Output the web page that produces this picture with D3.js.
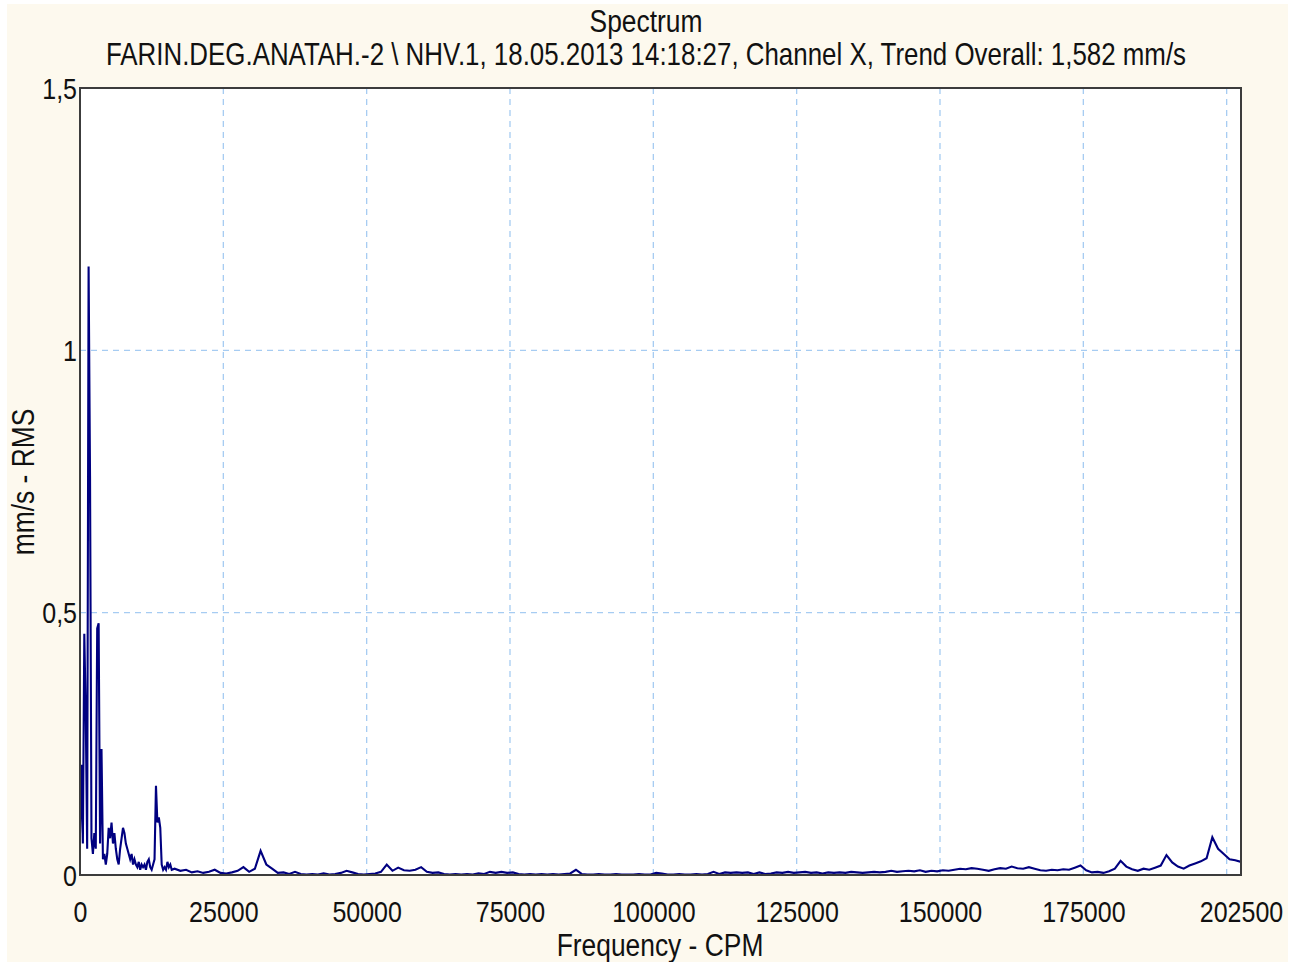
<!DOCTYPE html>
<html>
<head>
<meta charset="utf-8">
<script src="https://cdn.jsdelivr.net/npm/d3@7"></script>
<style>
  html, body { margin: 0; padding: 0; background: #ffffff; }
  svg { display: block; }
  text { font-family: "Liberation Sans", Arial, sans-serif; fill: #111; }
</style>
</head>
<body>
<svg id="chart" width="1294" height="962"></svg>
<script>
// ---------------- DATA ----------------
const chartTitle = "Spectrum";
const chartSubtitle = "FARIN.DEG.ANATAH.-2 \\ NHV.1, 18.05.2013 14:18:27, Channel X, Trend Overall: 1,582 mm/s";
const xAxisLabel = "Frequency - CPM";
const yAxisLabel = "mm/s - RMS";

const xTickValues = [0, 25000, 50000, 75000, 100000, 125000, 150000, 175000, 202500];
const xGridValues = [25000, 50000, 75000, 100000, 125000, 150000, 175000, 200000];
const yTickValues = [0, 0.5, 1, 1.5];
const yGridValues = [0.5, 1];
const xDomain = [0, 202500];
const yDomain = [0, 1.5];

// low-frequency segment: 0 .. 16000 CPM, every 250 CPM
const lowStart = 0;
const lowStep = 250;
const lowAmps = [
  0.08, 0.21, 0.06, 0.46, 0.31, 0.05, 1.16, 0.76, 0.07, 0.04,   // 0 .. 2250
  0.08, 0.05, 0.47, 0.48, 0.06, 0.24, 0.03, 0.04, 0.02, 0.04,   // 2500 .. 4750
  0.09, 0.07, 0.10, 0.06, 0.08, 0.05, 0.03, 0.02, 0.05, 0.07,   // 5000 .. 7250
  0.09, 0.08, 0.06, 0.05, 0.04, 0.03, 0.04, 0.02, 0.03, 0.02,   // 7500 .. 9750
  0.015, 0.025, 0.01, 0.02, 0.015, 0.02, 0.01, 0.025, 0.03, 0.015, // 10000 .. 12250
  0.01, 0.02, 0.03, 0.17, 0.10, 0.11, 0.09, 0.02, 0.01, 0.015,  // 12500 .. 14750
  0.01, 0.025, 0.015, 0.02, 0.01                                // 15000 .. 16000
];

// high-frequency segment: 16500 .. 202500 CPM, every 1000 CPM
const highStart = 16500;
const highStep = 1000;
const highAmps = [
  0.012, 0.008, 0.01, 0.005, 0.007, 0.004, 0.006, 0.01, 0.004, 0.003,   // 16500
  0.005, 0.008, 0.015, 0.006, 0.012, 0.046, 0.02, 0.012, 0.004, 0.005,  // 26500
  0.002, 0.006, 0.002, 0.001, 0.002, 0.001, 0.003, 0.001, 0.002, 0.004, // 36500
  0.008, 0.005, 0.002, 0.001, 0.002, 0.003, 0.006, 0.02, 0.008, 0.014,  // 46500
  0.009, 0.008, 0.01, 0.015, 0.006, 0.004, 0.005, 0.002, 0.001, 0.002,  // 56500
  0.001, 0.002, 0.001, 0.003, 0.002, 0.006, 0.004, 0.006, 0.004, 0.005, // 66500
  0.002, 0.001, 0.002, 0.001, 0.002, 0.001, 0.002, 0.001, 0.002, 0.003, // 76500
  0.01, 0.002, 0.001, 0.001, 0.002, 0.001, 0.001, 0.002, 0.001, 0.001,  // 86500
  0.001, 0.002, 0.001, 0.001, 0.004, 0.003, 0.001, 0.001, 0.002, 0.001, // 96500
  0.001, 0.002, 0.001, 0.002, 0.006, 0.002, 0.005, 0.004, 0.005, 0.004, // 106500
  0.005, 0.002, 0.005, 0.002, 0.003, 0.005, 0.004, 0.006, 0.004, 0.005, // 116500
  0.006, 0.004, 0.005, 0.003, 0.005, 0.004, 0.005, 0.004, 0.006, 0.005, // 126500
  0.004, 0.005, 0.006, 0.005, 0.006, 0.008, 0.006, 0.007, 0.008, 0.007, // 136500
  0.009, 0.006, 0.008, 0.007, 0.009, 0.008, 0.01, 0.012, 0.011, 0.013,  // 146500
  0.012, 0.01, 0.008, 0.011, 0.013, 0.012, 0.016, 0.013, 0.012, 0.015,  // 156500
  0.012, 0.009, 0.008, 0.01, 0.009, 0.011, 0.01, 0.014, 0.018, 0.009,   // 166500
  0.005, 0.006, 0.004, 0.007, 0.012, 0.027, 0.016, 0.011, 0.008, 0.012, // 176500
  0.01, 0.014, 0.018, 0.038, 0.024, 0.016, 0.012, 0.018, 0.022, 0.026,  // 186500
  0.032, 0.072, 0.05, 0.04, 0.03, 0.028, 0.025                          // 196500 .. 202500
];

// ---------------- LAYOUT ----------------
const W = 1294, H = 962;
const plot = { left: 80, right: 1241, top: 88, bottom: 875 };
const textScaleY = 1.2;
const tickFontSize = 25;
const titleFontSize = 26.4;
const subtitleFontSize = 25.9;

const spectrum = [
  ...lowAmps.map((a, i) => ({ f: lowStart + i * lowStep, a })),
  ...highAmps.map((a, i) => ({ f: highStart + i * highStep, a }))
];

const svg = d3.select("#chart");

// backgrounds
svg.append("rect").attr("x", 0).attr("y", 0).attr("width", W).attr("height", H).attr("fill", "#ffffff");
svg.append("rect").attr("x", 7).attr("y", 4).attr("width", 1281).attr("height", H - 4).attr("fill", "#fdf9ee");
svg.append("rect").attr("x", plot.left).attr("y", plot.top)
  .attr("width", plot.right - plot.left).attr("height", plot.bottom - plot.top).attr("fill", "#ffffff");

const x = d3.scaleLinear().domain(xDomain).range([plot.left, plot.right]);
const y = d3.scaleLinear().domain(yDomain).range([plot.bottom, plot.top]);

// grid
const grid = svg.append("g").attr("stroke", "#a6ccf2").attr("stroke-width", 1.3).attr("stroke-dasharray", "6,5");
grid.selectAll("line.v").data(xGridValues).join("line").attr("class", "v")
  .attr("x1", d => x(d)).attr("x2", d => x(d)).attr("y1", plot.top).attr("y2", plot.bottom);
grid.selectAll("line.h").data(yGridValues).join("line").attr("class", "h")
  .attr("x1", plot.left).attr("x2", plot.right).attr("y1", d => y(d)).attr("y2", d => y(d));

// spectrum line
svg.append("clipPath").attr("id", "clip").append("rect")
  .attr("x", plot.left).attr("y", plot.top).attr("width", plot.right - plot.left).attr("height", plot.bottom - plot.top);
const line = d3.line().x(d => x(d.f)).y(d => y(d.a));
svg.append("path").datum(spectrum).attr("clip-path", "url(#clip)")
  .attr("d", line).attr("fill", "none").attr("stroke", "#000080").attr("stroke-width", 2.1)
  .attr("stroke-linejoin", "miter");

// frame
svg.append("rect").attr("x", plot.left).attr("y", plot.top)
  .attr("width", plot.right - plot.left).attr("height", plot.bottom - plot.top)
  .attr("fill", "none").attr("stroke", "#3c3c3c").attr("stroke-width", 2);

// axes (library axes, tick lines hidden)
const locale = d3.formatLocale({ decimal: ",", thousands: "", grouping: [3], currency: ["", ""] });
const yFmt = locale.format("~g");
const xFmt = d3.format("d");

const xAxis = d3.axisBottom(x).tickValues(xTickValues).tickFormat(xFmt).tickSize(0).tickPadding(0);
const gx = svg.append("g").attr("transform", `translate(0,${plot.bottom})`).call(xAxis);
gx.select(".domain").remove();
gx.selectAll(".tick text")
  .attr("y", 0).attr("dy", null)
  .attr("font-size", tickFontSize)
  .attr("font-family", "Liberation Sans, Arial, sans-serif")
  .attr("fill", "#111")
  .attr("dominant-baseline", "central")
  .attr("transform", `translate(0,37) scale(1,${textScaleY})`);

const yAxis = d3.axisLeft(y).tickValues(yTickValues).tickFormat(yFmt).tickSize(0).tickPadding(0);
const gy = svg.append("g").attr("transform", `translate(${plot.left - 3},0)`).call(yAxis);
gy.select(".domain").remove();
gy.selectAll(".tick text")
  .attr("x", 0).attr("dy", null)
  .attr("font-size", tickFontSize)
  .attr("font-family", "Liberation Sans, Arial, sans-serif")
  .attr("fill", "#111")
  .attr("dominant-baseline", "central")
  .attr("transform", `scale(1,${textScaleY})`);

// titles
function label(txt, cx, cy, rotate, size) {
  svg.append("text")
    .attr("transform", `translate(${cx},${cy}) rotate(${rotate || 0}) scale(1,${textScaleY})`)
    .attr("text-anchor", "middle").attr("dominant-baseline", "central")
    .attr("font-size", size).text(txt);
}
label(chartTitle, 646, 21, 0, titleFontSize);
label(chartSubtitle, 646, 54, 0, subtitleFontSize);
label(xAxisLabel, 660, 945, 0, titleFontSize);
label(yAxisLabel, 23, 482, -90, titleFontSize);
</script>
</body>
</html>
